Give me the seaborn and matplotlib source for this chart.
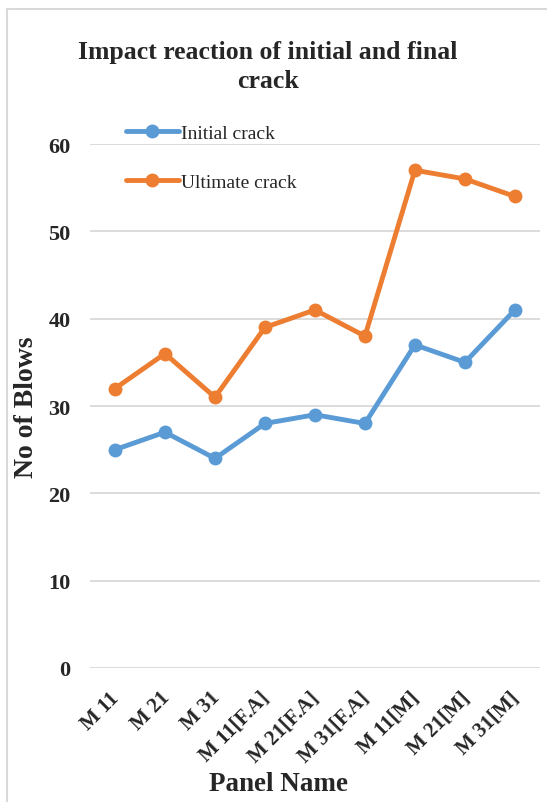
import matplotlib
matplotlib.use("Agg")
import matplotlib.pyplot as plt
import matplotlib.transforms as mtransforms
from matplotlib.lines import Line2D
import seaborn as sns
import pandas as pd

panels = ["M 11", "M 21", "M 31", "M 11[F.A]", "M 21[F.A]", "M 31[F.A]",
          "M 11[M]", "M 21[M]", "M 31[M]"]
initial_crack = [25, 27, 24, 28, 29, 28, 37, 35, 41]
ultimate_crack = [32, 36, 31, 39, 41, 38, 57, 56, 54]
y_ticks = [0, 10, 20, 30, 40, 50, 60]

df = pd.DataFrame({
    "Panel": panels * 2,
    "Blows": initial_crack + ultimate_crack,
    "Series": ["Initial crack"] * len(panels) + ["Ultimate crack"] * len(panels),
})

sns.set_theme(style="white")
plt.rcParams["font.family"] = ["Liberation Serif", "DejaVu Serif"]

fig = plt.figure(figsize=(5.47, 8.03), dpi=100)
ax = fig.add_axes([0.1645, 0.1669, 0.8225, 0.6525])

palette = {"Initial crack": "#5B9BD5", "Ultimate crack": "#ED7D31"}
sns.lineplot(data=df, x="Panel", y="Blows", hue="Series", palette=palette,
             marker="o", markersize=10, markeredgewidth=0, linewidth=3.5,
             sort=False, ax=ax, legend=False)

ax.set_xlim(-0.5, len(panels) - 0.5)
ax.set_ylim(0, 60)
ax.set_yticks(y_ticks)
ax.yaxis.grid(True, color="#D9D9D9", linewidth=1.3)
ax.set_axisbelow(True)
for s in ax.spines.values():
    s.set_visible(False)
ax.tick_params(axis="both", length=0)
ax.tick_params(axis="y", pad=14)
ax.tick_params(axis="x", pad=14)

for lbl in ax.get_yticklabels():
    lbl.set_fontsize(16)
    lbl.set_fontweight("bold")
ax.set_xticks(range(len(panels)))
ax.set_xticklabels(panels, rotation=45, ha="right", rotation_mode="anchor",
                   fontsize=15, fontweight="bold")
shift = mtransforms.ScaledTranslation(-4 / 72, 0, fig.dpi_scale_trans)
for lbl in ax.get_xticklabels():
    lbl.set_transform(lbl.get_transform() + shift)

ax.set_xlabel("Panel Name", fontsize=19.5, fontweight="bold")
ax.xaxis.set_label_coords(0.418, -0.196)
ax.set_ylabel("No of Blows", fontsize=20, fontweight="bold")
ax.yaxis.set_label_coords(-0.113, 0.5)

fig.text(0.49, 0.9165, "Impact reaction of initial and final\ncrack",
         ha="center", va="center", fontsize=18.5, fontweight="bold",
         linespacing=1.3)

handles = [Line2D([0], [0], color=palette[k], linewidth=3.5, marker="o",
                  markersize=10, markeredgewidth=0) for k in palette]
ax.legend(handles, list(palette.keys()), loc="upper left",
          bbox_to_anchor=(0.063, 1.052), frameon=False, fontsize=14,
          handlelength=2.7, handletextpad=0.1, labelspacing=1.6,
          borderaxespad=0)

# light frame along the top and left edges
fig.add_artist(Line2D([6.5 / 547, 1.0], [1 - 9.5 / 803, 1 - 9.5 / 803],
                      color="#D9D9D9", linewidth=1.5, transform=fig.transFigure))
fig.add_artist(Line2D([6.5 / 547, 6.5 / 547], [0, 1 - 9.5 / 803],
                      color="#D9D9D9", linewidth=1.5, transform=fig.transFigure))

fig.savefig("out.png", dpi=100)
